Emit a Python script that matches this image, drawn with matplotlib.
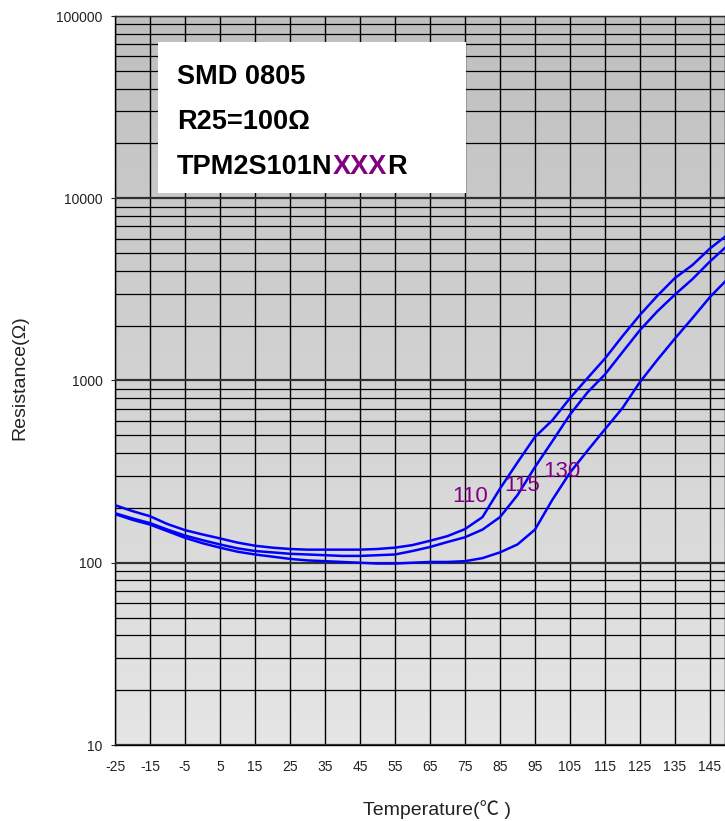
import numpy as np
import matplotlib
matplotlib.use('Agg')
import matplotlib.pyplot as plt
from matplotlib.patches import Rectangle
from matplotlib.ticker import FixedLocator, LogLocator, NullFormatter

plt.rcParams['font.family'] = ['Liberation Sans', 'Noto Sans CJK SC', 'DejaVu Sans']

# temperatures (degC) and resistance (ohm)
temp = [-25, -20, -15, -10, -5, 0, 5, 10, 15, 20, 25, 30, 35, 40, 45, 50, 55, 60,
        65, 70, 75, 80, 85, 90, 95, 100, 105, 110, 115, 120, 125, 130, 135, 140, 145, 150]
r_110 = [207, 192, 180, 163, 151, 143, 136, 129, 124, 121, 119, 118, 118, 118, 118, 119, 121, 125,
         132, 140, 153, 178, 255, 355, 490, 606, 800, 1030, 1320, 1750, 2290, 2920, 3650, 4300, 5300, 6300]
r_115 = [187, 175, 165, 152, 141, 133, 126, 120, 116, 114, 112, 111, 110, 109, 109, 110, 111, 116,
         122, 130, 138, 152, 178, 235, 335, 465, 650, 860, 1080, 1430, 1890, 2400, 2960, 3600, 4500, 5500]
r_130 = [185, 172, 162, 149, 137, 128, 121, 115, 111, 108, 105, 103, 102, 101, 100, 99, 99, 100,
         101, 101, 102, 106, 114, 126, 152, 222, 312, 412, 540, 706, 981, 1300, 1700, 2200, 2870, 3600]

x_ticks = list(range(-25, 150, 10))
y_ticks = [10, 100, 1000, 10000, 100000]
curve_labels = ['110', '115', '130']
label_pos = [(76.4, 230), (91.3, 264), (102.7, 315)]

purple = '#800080'

fig = plt.figure(figsize=(7.25, 8.21), dpi=100)
ax = fig.add_axes([115 / 725, 76 / 821, 610 / 725, 729 / 821])

# grey gradient background, darker at the top, lighter at the bottom
shade = np.linspace(0.90, 0.75, 256)
grad = np.repeat(shade[:, None, None], 3, axis=2)
ax.imshow(grad, extent=[0, 1, 0, 1], transform=ax.transAxes,
          aspect='auto', zorder=0, origin='lower')
ax.set_facecolor('#d0d0d0')

ax.set_yscale('log')
ax.set_xlim(-25, 149.3)
ax.set_ylim(10, 100000)

ax.xaxis.set_major_locator(FixedLocator(x_ticks))
ax.set_xticklabels([str(t) for t in x_ticks])
ax.yaxis.set_major_locator(FixedLocator(y_ticks))
ax.set_yticklabels([str(v) for v in y_ticks])
ax.yaxis.set_minor_locator(LogLocator(base=10, subs=np.arange(2, 10)))
ax.yaxis.set_minor_formatter(NullFormatter())

ax.grid(True, which='major', axis='x', color='black', lw=1.0, zorder=1)
ax.grid(True, which='major', axis='y', color='#303030', lw=1.6, zorder=1)
ax.grid(True, which='minor', axis='y', color='black', lw=0.9, zorder=1)
ax.set_axisbelow(False)

ax.tick_params(axis='x', which='both', length=0, pad=11, labelsize=10, colors='#222222')
ax.tick_params(axis='y', which='major', length=3, pad=6, labelsize=10, colors='#222222')
ax.tick_params(axis='y', which='minor', length=0)
for s in ax.spines.values():
    s.set_color('black')
    s.set_linewidth(1.0)

for r in (r_110, r_115, r_130):
    ax.plot(temp, r, color='#0000ff', lw=1.8, zorder=3)

for lab, (tx, ty) in zip(curve_labels, label_pos):
    ax.text(tx, ty, lab, color=purple, fontsize=16, ha='center', va='center', zorder=4)

# white info box
ax.add_patch(Rectangle((0.0705, 0.757), 0.505, 0.2073, transform=ax.transAxes,
                       facecolor='white', edgecolor='none', zorder=5))
tx0 = 0.1016
ax.text(tx0, 0.9067, 'SMD 0805', transform=ax.transAxes, fontsize=19.5,
        fontweight='bold', va='baseline', zorder=6)
ax.text(tx0, 0.845, 'R25=100Ω', transform=ax.transAxes, fontsize=19.5,
        fontweight='bold', va='baseline', zorder=6)
t1 = ax.text(tx0, 0.7833, 'TPM2S101N', transform=ax.transAxes, fontsize=19.5,
             fontweight='bold', va='baseline', zorder=6)
t2 = ax.annotate('XXX', xy=(1, 0), xycoords=t1, fontsize=19.5, fontweight='bold',
                 color=purple, ha='left', va='bottom', zorder=6)
ax.annotate('R', xy=(1, 0), xycoords=t2, fontsize=19.5, fontweight='bold',
            ha='left', va='bottom', zorder=6)

fig.text(437 / 725, 1 - 810 / 821, 'Temperature(℃ )', fontsize=14, ha='center',
         va='center', color='#222222')
fig.text(20 / 725, 1 - 378 / 821, 'Resistance(Ω)', fontsize=14, ha='center',
         va='center', rotation=90, color='#222222')

fig.savefig('out.png', dpi=100)
